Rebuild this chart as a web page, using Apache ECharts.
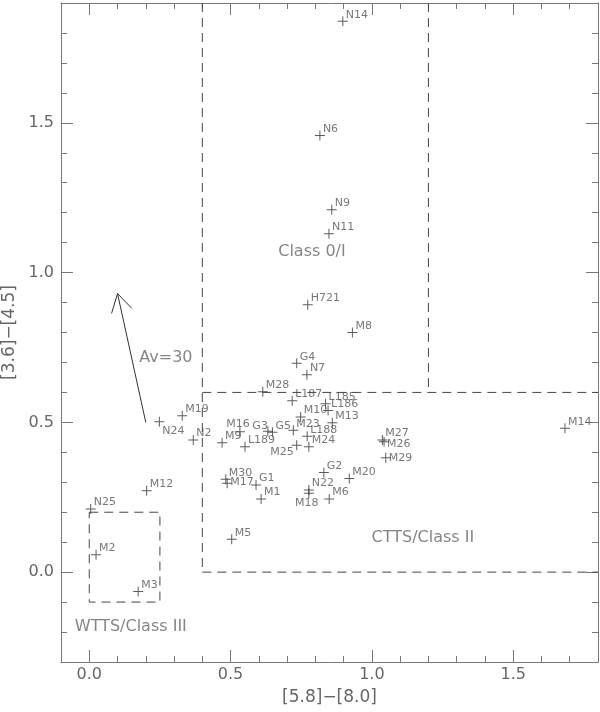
<!DOCTYPE html>
<html>
<head>
<meta charset="utf-8">
<script src="https://cdn.jsdelivr.net/npm/echarts@6/dist/echarts.min.js"></script>
<style>
  html, body { margin: 0; padding: 0; background: #fff; }
  #main { width: 600px; height: 712px; }
</style>
</head>
<body>
<div id="main"></div>
<script>
// source names and colours, [5.8]-[8.0] vs [3.6]-[4.5]
const NAMES = ['N14', 'N6', 'N9', 'N11', 'H721', 'M8', 'G4', 'N7', 'M28', 'L187',
  'L185', 'L186', 'M10', 'M13', 'M23', 'L188', 'M24', 'M25', 'M16', 'G3',
  'G5', 'M9', 'L189', 'N2', 'M19', 'N24', 'M12', 'N25', 'M2', 'M3',
  'M30', 'M17', 'G1', 'M1', 'G2', 'M20', 'N22', 'M18', 'M6', 'M5',
  'M27', 'M26', 'M29', 'M14'];
const X_VALUES = [0.897, 0.816, 0.858, 0.848, 0.773, 0.931, 0.734, 0.770, 0.614, 0.718,
  0.836, 0.845, 0.748, 0.860, 0.722, 0.771, 0.777, 0.734, 0.533, 0.632,
  0.648, 0.470, 0.551, 0.368, 0.329, 0.248, 0.203, 0.005, 0.024, 0.173,
  0.483, 0.488, 0.590, 0.608, 0.830, 0.920, 0.777, 0.777, 0.849, 0.504,
  1.037, 1.043, 1.049, 1.683];
const Y_VALUES = [1.839, 1.458, 1.210, 1.130, 0.893, 0.800, 0.697, 0.659, 0.602, 0.572,
  0.562, 0.540, 0.518, 0.499, 0.474, 0.454, 0.419, 0.424, 0.469, 0.470,
  0.467, 0.432, 0.419, 0.441, 0.522, 0.502, 0.272, 0.211, 0.058, -0.065,
  0.310, 0.297, 0.291, 0.244, 0.333, 0.313, 0.274, 0.263, 0.244, 0.110,
  0.441, 0.435, 0.382, 0.480];

// axes
const X_RANGE = [-0.1, 1.8];
const Y_RANGE = [-0.3, 1.9];
const X_MAJOR = [0, 0.5, 1.0, 1.5];
const Y_MAJOR = [0, 0.5, 1.0, 1.5];

// class boundaries (dashed)
const BOX_CLASS0 = [[0.4, 1.9], [0.4, 0.0]];
const BOX_CLASS0_RIGHT = [[1.2, 1.9], [1.2, 0.6]];
const LINE_Y06 = [[0.4, 0.6], [1.8, 0.6]];
const LINE_Y00 = [[0.4, 0.0], [1.8, 0.0]];
const BOX_WTTS = [[0.0, 0.2], [0.25, 0.2], [0.25, -0.1], [0.0, -0.1], [0.0, 0.2]];

// reddening vector
const AV_SHAFT = [[0.2, 0.5], [0.1, 0.93]];
const AV_HEAD = [[0.079, 0.864], [0.1, 0.93], [0.15, 0.881]];

// region text
const TEXTS = [
  { name: 'Class 0/I', value: [0.788, 1.068], align: 'center' },
  { name: 'CTTS/Class II', value: [0.999, 0.113], align: 'left' },
  { name: 'WTTS/Class III', value: [-0.051, -0.181], align: 'left' },
  { name: 'Av=30', value: [0.177, 0.715], align: 'left' }
];

// label placement that differs from the usual upper-right spot
const LABEL_PLACE = {
  N24: ['left', [3, 9]],
  M25: ['right', [-3, 7]],
  M18: ['center', [-2, 10]],
  M17: ['left', [3, -1]],
  M26: ['left', [3, 2]],
  M29: ['left', [3, 0]],
  G3: ['right', [0, -5]],
  M16: ['center', [-2, -8]]
};

function range(a, b, step) {
  const out = [];
  for (let v = a; v <= b + 1e-9; v += step) out.push(Math.round(v * 10) / 10);
  return out;
}
const X_MINOR = range(X_RANGE[0], X_RANGE[1], 0.1);
const Y_MINOR = range(Y_RANGE[0], Y_RANGE[1], 0.1);

const FONT = 'DejaVu Sans';
const AXIS_COLOR = '#777';
const TEXT_COLOR = '#666';
const INK = '#333';

function axis(kind, pos, major, showLine, showLabel, name) {
  const r = kind === 'x' ? X_RANGE : Y_RANGE;
  const a = {
    type: 'value', position: pos, min: r[0], max: r[1],
    splitLine: { show: false },
    axisLine: { show: showLine, onZero: false, lineStyle: { color: AXIS_COLOR, width: 1 } },
    axisTick: {
      show: true, inside: true,
      length: major ? 12 : 6,
      customValues: major ? (kind === 'x' ? X_MAJOR : Y_MAJOR) : (kind === 'x' ? X_MINOR : Y_MINOR),
      lineStyle: { color: AXIS_COLOR, width: 1 }
    },
    axisLabel: { show: false }
  };
  if (showLabel) {
    a.axisLabel = {
      show: true,
      customValues: kind === 'x' ? X_MAJOR : Y_MAJOR,
      formatter: v => v.toFixed(1),
      color: TEXT_COLOR, fontFamily: FONT, fontSize: 16,
      margin: kind === 'x' ? 5 : 7
    };
  }
  if (name) {
    a.name = name;
    a.nameLocation = 'middle';
    a.nameGap = kind === 'x' ? 27 : 39;
    a.nameTextStyle = { color: TEXT_COLOR, fontFamily: FONT, fontSize: 17 };
  }
  return a;
}

function dashed(data) {
  return {
    type: 'line', xAxisIndex: 0, yAxisIndex: 0, data: data,
    symbol: 'none', silent: true,
    lineStyle: { color: '#444', width: 1, type: [9, 6] }
  };
}
function solid(data) {
  return {
    type: 'line', xAxisIndex: 0, yAxisIndex: 0, data: data,
    symbol: 'none', silent: true,
    lineStyle: { color: INK, width: 1 }
  };
}

const points = NAMES.map((n, i) => {
  const p = LABEL_PLACE[n] || ['left', [3, -6.5]];
  return {
    name: n, value: [X_VALUES[i], Y_VALUES[i]],
    label: { align: p[0], offset: p[1] }
  };
});

const chart = echarts.init(document.getElementById('main'));
chart.setOption({
  animation: false,
  backgroundColor: '#fff',
  grid: { left: 61, right: 2, top: 3, bottom: 50, outerBoundsMode: 'none', containLabel: false },
  xAxis: [
    axis('x', 'bottom', true, true, true, '[5.8]\u2212[8.0]'),
    axis('x', 'bottom', false, false, false),
    axis('x', 'top', true, true, false),
    axis('x', 'top', false, false, false)
  ],
  yAxis: [
    axis('y', 'left', true, true, true, '[3.6]\u2212[4.5]'),
    axis('y', 'left', false, false, false),
    axis('y', 'right', true, true, false),
    axis('y', 'right', false, false, false)
  ],
  series: [
    dashed(BOX_CLASS0),
    dashed(BOX_CLASS0_RIGHT),
    dashed(LINE_Y06),
    dashed(LINE_Y00),
    dashed(BOX_WTTS),
    solid(AV_SHAFT),
    solid(AV_HEAD),
    {
      type: 'scatter', xAxisIndex: 0, yAxisIndex: 0,
      data: points,
      symbol: 'path://M0,4.5h10v1h-10z M4.5,0h1v10h-1z',
      symbolSize: 10,
      itemStyle: { color: INK },
      label: {
        show: true, position: 'inside', formatter: '{b}',
        verticalAlign: 'middle',
        color: '#555', fontFamily: FONT, fontSize: 11
      }
    },
    {
      type: 'scatter', xAxisIndex: 0, yAxisIndex: 0,
      data: TEXTS.map(t => ({ name: t.name, value: t.value, label: { align: t.align } })),
      symbolSize: 0, silent: true,
      label: {
        show: true, position: 'inside', formatter: '{b}',
        verticalAlign: 'middle',
        color: TEXT_COLOR, fontFamily: FONT, fontSize: 16
      }
    }
  ]
});
</script>
</body>
</html>
